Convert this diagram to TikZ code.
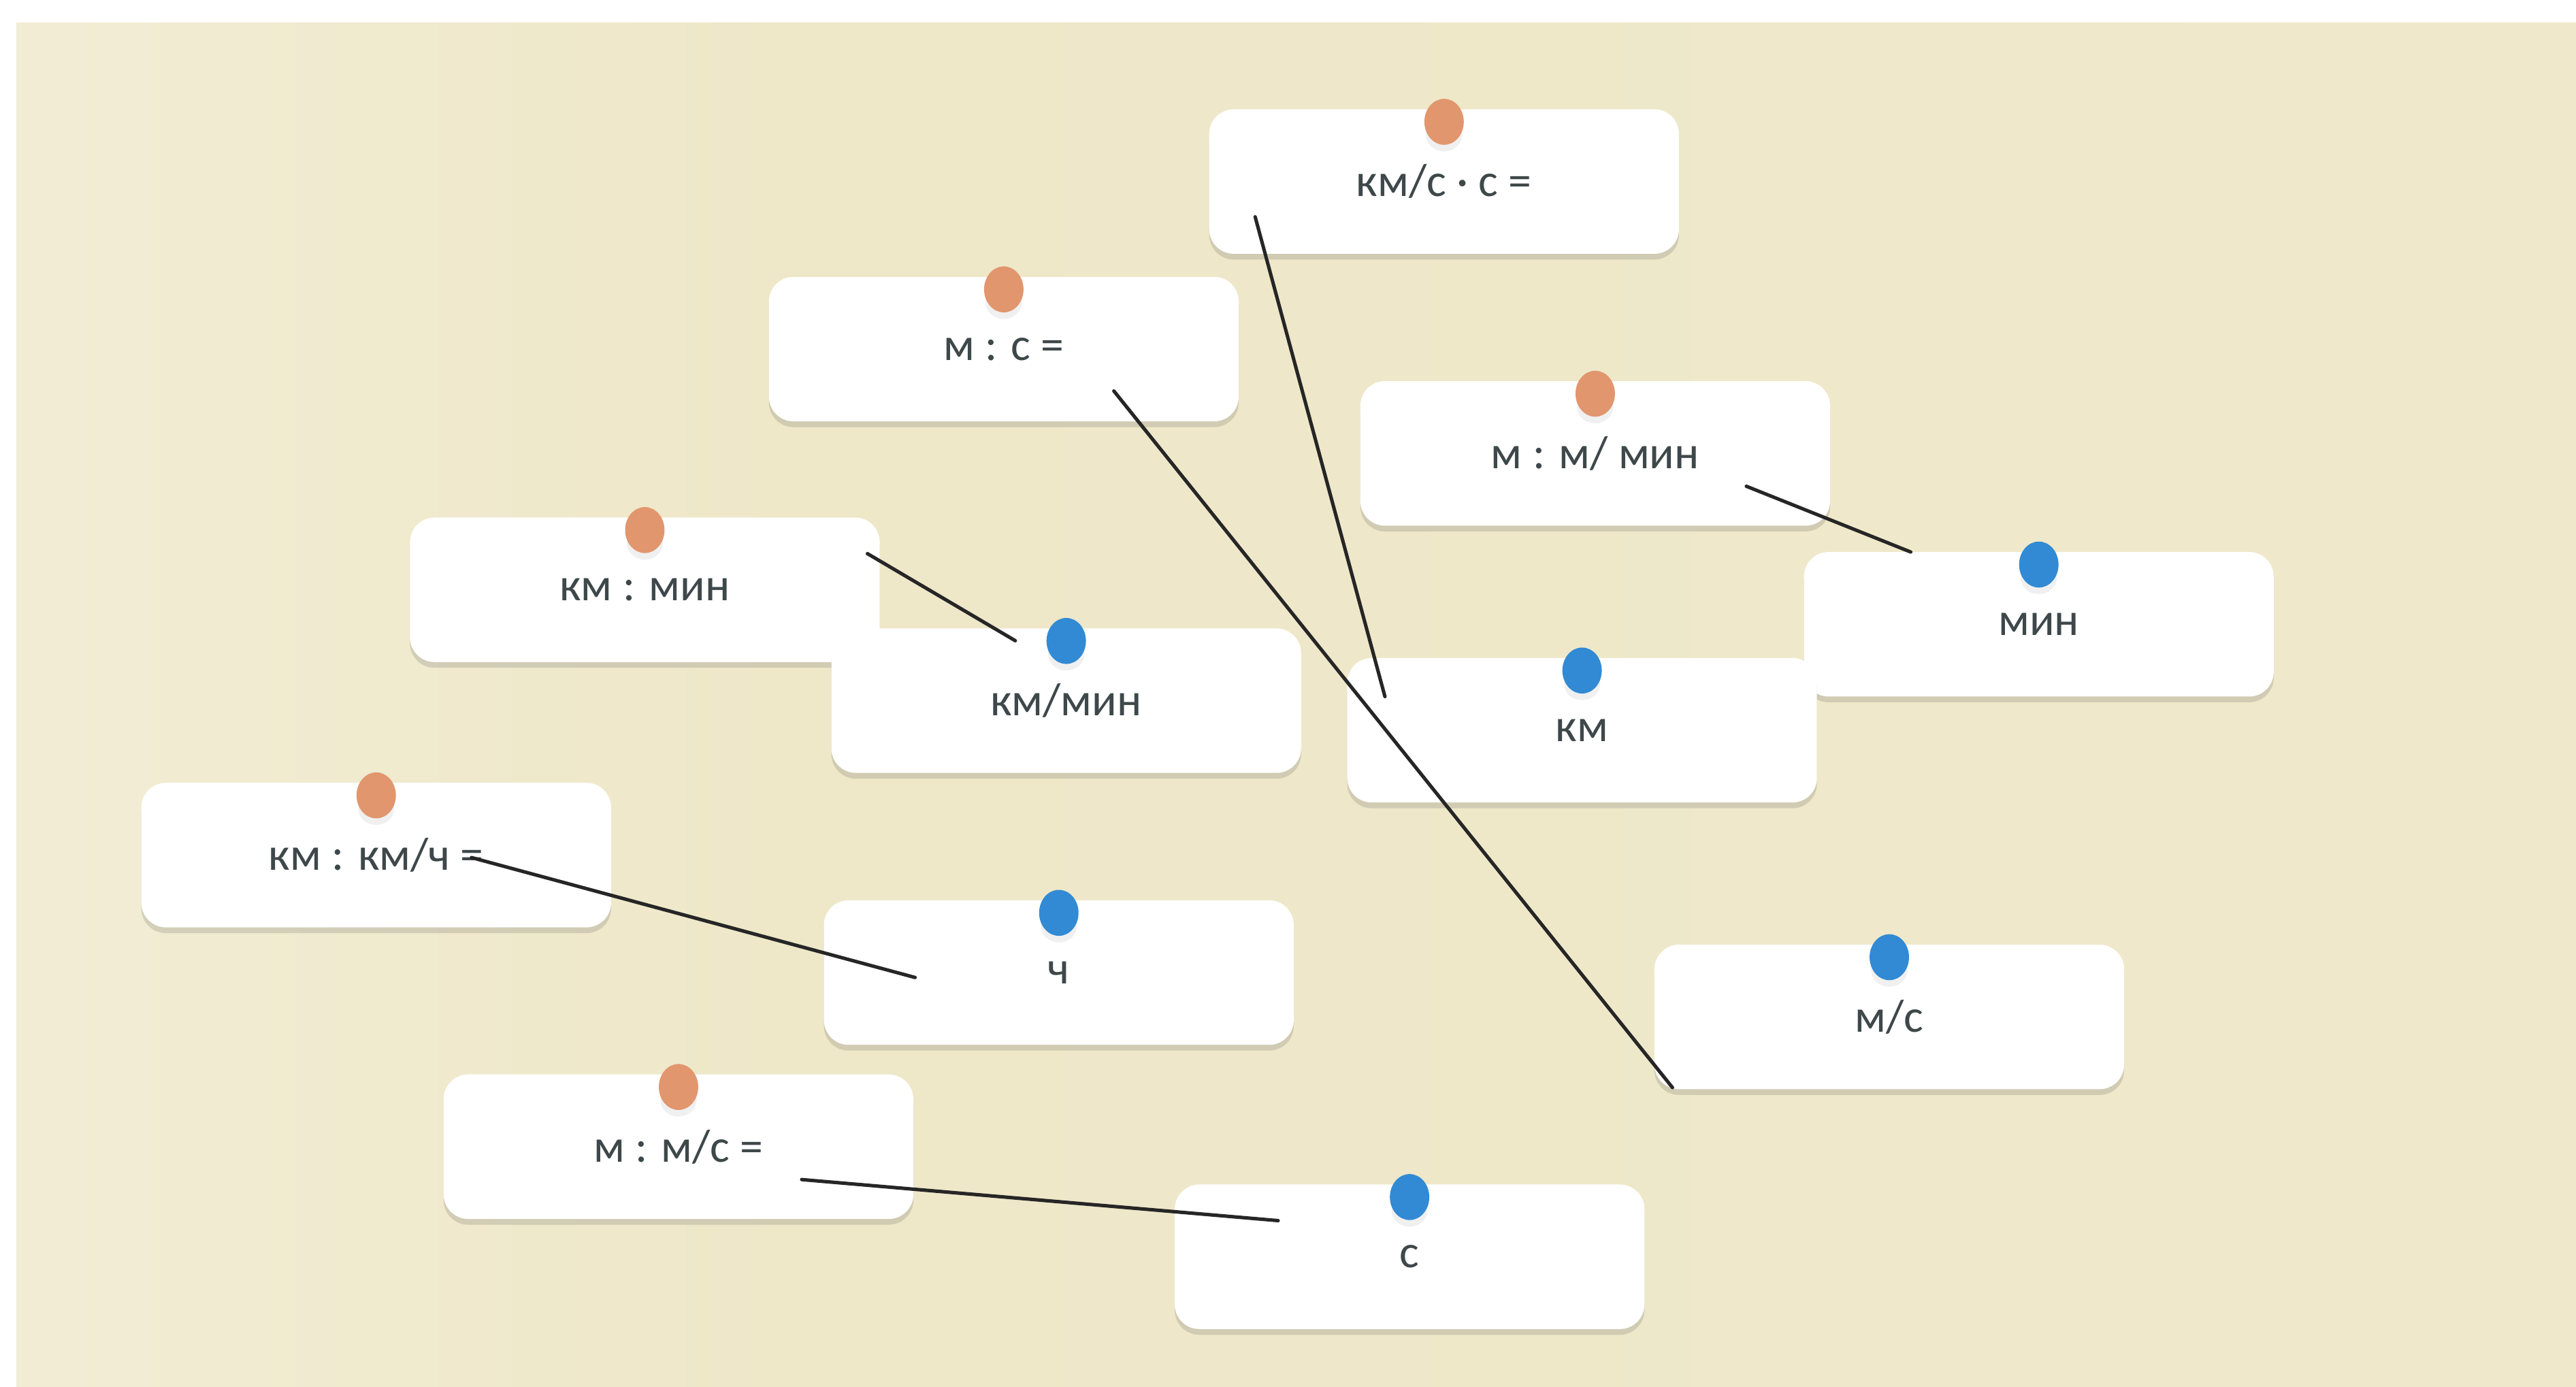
\documentclass[tikz,border=0pt]{standalone}
\usepackage{fontspec}
\newfontfamily\cardfont{Carlito}
\usetikzlibrary{shadows}
\definecolor{beige}{RGB}{238,231,200}
\definecolor{beigelight}{RGB}{250,249,240}
\definecolor{pinorange}{RGB}{226,150,110}
\definecolor{pinblue}{RGB}{50,138,212}
\definecolor{ink}{RGB}{62,72,74}
\pgfdeclarehorizontalshading{board}{100bp}{color(0bp)=(beigelight); color(14bp)=(beige!60!white); color(40bp)=(beige); color(100bp)=(beige!90!white)}
\begin{document}
\begin{tikzpicture}[x=0.02cm,y=-0.02cm,line join=round,line cap=round,
	card/.style={fill=white,rounded corners=0.3cm,minimum width=5.72cm,minimum height=1.76cm,inner sep=0pt,
		text=ink,font=\cardfont\fontsize{16}{18}\selectfont,
		drop shadow={shadow xshift=0pt,shadow yshift=-0.07cm,opacity=0.18,fill=black!70}},
	link/.style={line width=1.2pt,draw=black!85}]
	\useasboundingbox (0,0) rectangle (1568,844);
	\fill[white] (0,0) rectangle (1568,844);
	\shade[shading=board] (10,14) rectangle (1568,844);
	% карточки-вопросы
	\node[card] (kmc) at (879,110.5) {км/с · с =};
	\node[card] (ms) at (611,212.5) {м : с =};
	\node[card] (mmm) at (971,276) {м : м/ мин};
	\node[card] (kmmin) at (392.5,359) {км : мин};
	\node[card] (kmkmh) at (229,520.5) {км : км/ч =};
	\node[card] (mmps) at (413,698) {м : м/с =};
	% карточки-ответы
	\node[card] (kpm) at (649,426.5) {км/мин};
	\node[card] (min) at (1241,380) {мин};
	\node[card] (km) at (963,444.5) {км};
	\node[card] (h) at (644.5,592) {ч};
	\node[card] (mps) at (1150,619) {м/с};
	\node[card] (s) at (858,765) {с};
	% булавки
	\foreach \n in {kmc,ms,mmm,kmmin,kmkmh,mmps}{
		\fill[black!6] ([yshift=-0.32cm]\n.north) ellipse (0.22cm and 0.2cm);
		\fill[pinorange] ([yshift=-0.16cm]\n.north) ellipse (0.24cm and 0.28cm);}
	\foreach \n in {kpm,min,km,h,mps,s}{
		\fill[black!6] ([yshift=-0.32cm]\n.north) ellipse (0.22cm and 0.2cm);
		\fill[pinblue] ([yshift=-0.16cm]\n.north) ellipse (0.24cm and 0.28cm);}
	% концы линий
	\coordinate (kmc-e) at ([shift={(-115,21.5)}]kmc.center);
	\coordinate (km-e) at ([shift={(-120,-20.5)}]km.center);
	\coordinate (ms-e) at ([shift={(67,25.5)}]ms.center);
	\coordinate (mps-e) at ([shift={(-132,43)}]mps.center);
	\coordinate (mmm-e) at ([shift={(92,20)}]mmm.center);
	\coordinate (min-e) at ([shift={(-78,-44)}]min.center);
	\coordinate (kmmin-e) at ([shift={(135.5,-22)}]kmmin.center);
	\coordinate (kpm-e) at ([shift={(-31,-36.5)}]kpm.center);
	\coordinate (kmkmh-e) at ([shift={(58,1.5)}]kmkmh.center);
	\coordinate (h-e) at ([shift={(-87.5,3)}]h.center);
	\coordinate (mmps-e) at ([shift={(75,20)}]mmps.center);
	\coordinate (s-e) at ([shift={(-80,-22)}]s.center);
	\draw[link] (kmc-e)--(km-e);
	\draw[link] (ms-e)--(mps-e);
	\draw[link] (mmm-e)--(min-e);
	\draw[link] (kmmin-e)--(kpm-e);
	\draw[link] (kmkmh-e)--(h-e);
	\draw[link] (mmps-e)--(s-e);
\end{tikzpicture}
\end{document}
